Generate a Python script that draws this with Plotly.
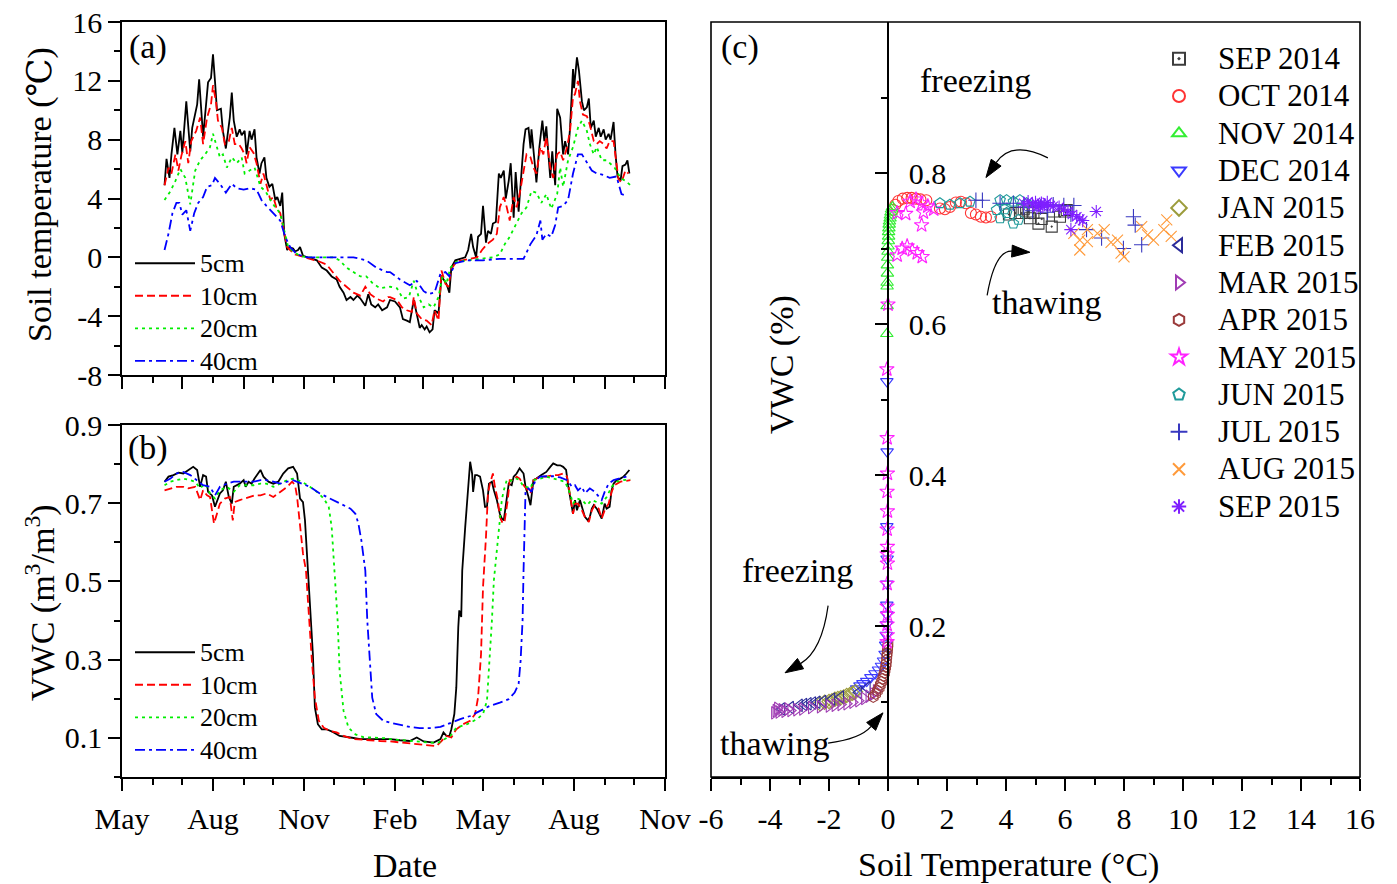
import pandas as pd
import plotly.graph_objects as go

FONT = "Liberation Serif, DejaVu Serif, serif"
W, H = 1397, 884

# ---------------- Panel (a): soil temperature, days since 2014-05-01 ----------------
days_t5 = [43,45,48,50,53,56,59,61,65,69,71,76,78,82,85,87,90,92,94,96,100,102,105,109,111,113,116,119,121,124,
           126,129,131,134,136,139,141,144,146,149,152,155,157,160,162,164,167,169,173,175,178,180,183,187,192,197,202,207,212,217,
           220,224,227,231,234,238,241,246,249,252,256,259,263,268,
           271,276,281,284,288,291,295,298,301,303,306,308,311,314,316,320,323,326,328,331,333,337,342,347,350,353,355,358,360,363,
           365,368,370,373,375,378,381,383,386,388,391,393,396,398,401,403,406,408,411,413,414,417,419,422,425,427,429,431,433,435,
           438,440,443,446,448,451,453,456,457,460,462,465,467,470,472,474,477,479,482,484,487,489,492,494,497,499,501,504,506,509,511,513]
temp_5 = [4.9,6.7,5.4,7.0,8.8,7.0,8.6,7.1,10.6,7.2,8.8,10.4,12.1,8.2,10.4,11.9,12.2,13.8,12.0,10.0,10.1,8.6,7.4,9.5,11.2,9.3,8.2,8.7,8.3,8.6,
          7.0,8.6,8.0,8.7,6.8,5.7,6.4,6.8,5.4,4.8,5.0,3.9,4.1,3.5,4.4,1.6,0.5,0.7,0.6,0.4,0.5,0.7,0.1,0.0,-0.1,-0.2,-0.7,-0.9,-1.3,-1.5,
          -2.0,-2.4,-2.9,-2.7,-2.9,-2.6,-2.8,-3.3,-2.5,-3.2,-3.4,-3.2,-3.6,-3.4,
          -2.9,-3.0,-3.4,-4.2,-4.3,-4.4,-2.9,-3.8,-4.8,-4.6,-4.9,-4.7,-5.1,-4.9,-3.6,-3.8,-1.3,-1.6,-1.8,-2.4,-0.7,-0.2,-0.1,0.0,0.5,1.6,0.7,0.0,1.4,1.6,
          3.5,1.0,1.8,1.6,2.3,2.4,5.7,5.4,5.9,4.0,5.2,6.4,2.7,5.8,3.1,5.2,7.7,8.7,8.8,7.4,8.7,6.6,5.1,7.5,9.3,7.9,8.9,7.1,5.4,7.2,
          4.9,10.1,9.5,7.0,7.9,7.0,8.8,12.8,11.5,13.6,12.7,10.6,10.0,10.2,10.8,8.8,9.3,8.2,8.8,8.2,8.7,8.0,8.4,8.0,9.2,7.0,5.5,5.2,6.2,6.3,6.6,5.7]

days_t10 = [43,47,50,54,57,60,64,67,70,75,79,82,86,90,92,95,97,101,104,108,111,114,118,121,124,126,129,133,136,140,
            143,146,150,153,156,160,163,167,170,175,180,185,190,195,200,207,214,220,227,234,241,246,251,257,264,269,
            271,278,283,288,293,295,298,303,308,313,316,320,323,327,330,333,338,345,352,359,364,369,375,379,382,386,389,392,396,399,
            402,406,409,413,416,419,423,426,429,433,436,440,443,446,450,453,456,458,461,463,466,470,473,477,480,483,487,490,493,497,
            499,502,505,509,512]
temp_10 = [4.9,6.1,5.7,7.0,5.9,6.9,7.9,6.4,7.9,8.6,9.5,7.7,9.5,10.4,11.7,10.6,9.3,8.8,7.7,7.9,8.8,7.7,7.7,7.4,7.0,6.4,7.5,7.1,6.4,5.0,
           5.7,5.0,3.9,4.1,3.4,3.0,2.1,0.7,0.5,0.2,0.1,0.0,-0.1,-0.2,-0.3,-0.5,-1.1,-1.6,-2.0,-2.4,-2.6,-2.0,-2.5,-2.8,-3.0,-2.7,
           -2.7,-2.9,-3.4,-3.6,-3.7,-2.7,-3.8,-4.2,-4.3,-4.6,-3.6,-4.3,-0.9,-1.8,-2.0,-0.8,-0.3,-0.2,-0.1,0.0,0.5,0.9,1.2,1.6,3.4,4.1,3.4,2.5,4.1,3.4,
           4.3,5.9,7.0,6.8,6.1,5.7,7.5,7.0,8.2,6.1,5.4,7.0,7.2,6.6,7.5,8.6,10.9,11.1,12.0,10.6,9.7,9.6,9.0,7.9,7.7,7.9,7.7,7.4,7.9,7.9,
           6.8,5.3,5.1,5.9,5.7]

days_t20 = [43,49,54,59,64,69,74,79,84,89,92,96,99,102,106,111,116,121,124,129,134,140,145,150,155,160,165,168,173,180,
            187,200,214,220,227,234,241,247,254,261,268,
            271,278,284,290,295,300,305,310,315,320,324,328,332,338,349,362,375,382,387,392,397,401,404,409,414,419,424,429,434,440,
            443,446,451,456,461,465,470,473,477,480,485,490,493,498,504,509,514]
temp_20 = [3.9,4.5,5.2,6.0,5.4,3.6,5.9,6.6,7.0,7.5,8.4,7.4,6.8,7.0,6.1,6.8,6.4,6.8,5.7,5.9,6.1,4.8,4.5,3.9,3.4,3.0,1.6,0.7,0.4,0.1,
           0.0,0.0,0.0,-0.2,-0.7,-1.0,-1.3,-1.3,-1.8,-2.1,-2.0,
           -2.0,-2.1,-2.8,-2.7,-1.6,-2.7,-3.4,-3.2,-3.4,-2.7,-1.3,-1.8,-0.7,-0.3,-0.2,-0.1,0.0,0.2,0.9,1.4,2.1,2.6,3.0,3.4,4.5,4.4,3.7,4.3,3.3,4.3,
           6.1,4.8,6.6,7.5,8.8,9.3,8.6,7.7,7.0,7.5,6.6,6.6,6.4,6.1,5.4,5.2,4.9]

days_t40 = [43,47,51,55,58,61,65,69,73,77,82,86,91,94,99,105,111,116,123,129,136,141,146,153,160,165,170,177,187,200,
            217,234,247,257,268,
            271,281,291,298,305,310,316,322,327,331,337,349,365,382,406,413,419,423,425,429,434,438,441,446,451,456,461,465,470,475,
            480,487,493,500,505,510]
temp_40 = [0.5,1.6,3.0,3.7,3.7,2.9,3.2,1.8,3.0,3.7,4.1,4.8,4.9,5.4,5.0,4.4,5.0,4.7,4.6,4.7,4.6,3.9,3.5,3.0,2.5,1.4,0.7,0.2,0.0,0.0,
           0.0,0.0,-0.2,-0.7,-1.0,
           -1.0,-1.5,-1.9,-1.6,-2.3,-2.5,-2.4,-1.1,-1.0,-1.3,-0.4,-0.2,-0.2,-0.1,-0.1,0.9,1.5,2.5,1.2,1.6,1.4,2.2,3.4,3.5,3.9,5.7,7.0,7.0,6.4,5.9,
           5.7,5.6,5.4,5.5,4.3,4.2]

# ---------------- Panel (b): VWC (m3/m3) ----------------
days_w5 = [43,47,52,57,62,67,72,76,79,82,85,87,91,94,96,99,102,105,108,111,113,116,119,123,125,128,131,134,140,143,
           148,153,158,163,168,173,177,180,183,185,187,190,193,195,198,202,207,214,220,231,241,254,268,
           271,281,291,298,305,315,318,322,325,328,331,333,336,338,340,341,343,344,347,349,350,352,354,355,357,359,362,365,367,369,
           371,374,376,379,382,384,386,389,391,394,396,399,402,406,408,411,413,416,419,424,429,433,436,440,443,446,449,451,454,456,
           458,460,463,466,468,471,473,475,477,480,483,485,488,490,493,495,497,500,504,507,510,513]
vwc_5 = [0.755,0.768,0.772,0.778,0.776,0.785,0.793,0.785,0.742,0.772,0.768,0.729,0.720,0.691,0.703,0.725,0.733,0.755,0.716,0.699,
         0.742,0.746,0.750,0.759,0.742,0.755,0.750,0.763,0.785,0.768,0.755,0.750,0.755,0.776,0.789,0.793,0.776,0.712,0.703,0.656,
         0.571,0.468,0.314,0.178,0.135,0.122,0.122,0.114,0.105,0.101,0.097,0.097,0.097,
         0.097,0.094,0.092,0.101,0.091,0.088,0.092,0.097,0.114,0.105,0.105,0.122,0.161,0.229,0.383,0.426,0.409,0.528,0.639,0.708,
         0.759,0.806,0.776,0.729,0.772,0.772,0.768,0.733,0.691,0.691,0.750,0.755,0.733,0.708,0.673,0.661,0.656,0.708,0.750,0.746,
         0.768,0.776,0.789,0.776,0.742,0.716,0.695,0.759,0.763,0.772,0.780,0.793,0.802,0.797,0.797,0.793,0.785,0.746,0.699,0.673,
         0.708,0.682,0.708,0.682,0.665,0.656,0.665,0.686,0.695,0.686,0.673,0.661,0.699,0.686,0.691,0.733,0.750,0.759,0.763,0.768,
         0.776,0.785]

days_w10 = [43,49,55,62,67,74,79,82,86,89,93,96,99,104,109,112,114,119,124,129,134,140,146,153,160,167,172,175,177,180,
            183,186,188,192,195,199,204,210,217,224,234,247,261,
            271,284,298,308,318,323,328,333,338,345,352,357,360,363,365,368,370,372,375,377,380,382,385,387,390,392,396,399,402,406,
            409,413,416,423,429,436,441,446,450,453,456,458,461,465,468,472,475,478,482,485,488,492,495,498,504,509,514]
vwc_10 = [0.733,0.738,0.742,0.742,0.738,0.742,0.708,0.733,0.720,0.716,0.648,0.673,0.699,0.712,0.716,0.656,0.703,0.708,0.712,0.716,
          0.720,0.720,0.725,0.716,0.729,0.742,0.755,0.746,0.716,0.648,0.571,0.528,0.443,0.297,0.203,0.144,0.126,0.118,0.114,0.105,
          0.097,0.094,0.092,
          0.091,0.088,0.084,0.082,0.079,0.092,0.105,0.101,0.122,0.135,0.144,0.161,0.203,0.314,0.485,0.614,0.725,0.750,0.776,0.742,
          0.708,0.665,0.648,0.656,0.708,0.759,0.759,0.768,0.763,0.746,0.738,0.725,0.759,0.768,0.768,0.772,0.772,0.776,0.768,0.716,
          0.673,0.699,0.699,0.682,0.665,0.652,0.682,0.695,0.686,0.661,0.682,0.699,0.729,0.746,0.755,0.757,0.759]

days_w20 = [43,49,55,62,69,74,79,84,89,94,99,106,113,119,126,133,140,146,153,160,167,173,182,190,197,204,209,212,215,218,
            220,224,229,236,244,254,268,
            271,284,298,311,320,327,332,338,349,359,365,369,371,374,376,379,382,384,386,389,392,396,399,402,406,409,413,416,423,429,
            436,443,448,453,456,460,465,470,475,480,485,490,495,500,507,514]
vwc_20 = [0.746,0.755,0.759,0.763,0.759,0.755,0.738,0.750,0.725,0.712,0.733,0.742,0.729,0.746,0.746,0.746,0.750,0.750,0.742,0.750,
          0.759,0.763,0.755,0.742,0.729,0.712,0.691,0.639,0.528,0.400,0.272,0.169,0.126,0.109,0.102,0.101,0.099,
          0.097,0.094,0.092,0.088,0.088,0.097,0.105,0.126,0.135,0.148,0.161,0.195,0.272,0.400,0.503,0.588,0.656,0.708,0.733,0.759,
          0.755,0.763,0.763,0.759,0.742,0.742,0.738,0.759,0.763,0.768,0.763,0.759,0.755,0.725,0.699,0.712,0.708,0.695,0.708,0.703,
          0.699,0.716,0.742,0.755,0.759,0.761]

days_w40 = [43,49,55,62,69,76,82,89,94,99,106,113,119,126,133,140,146,153,160,167,173,182,190,200,210,220,231,236,239,242,
            246,248,251,253,257,264,
            271,281,291,301,311,322,332,342,352,362,372,382,391,397,401,403,405,406,407,408,411,414,418,423,429,436,443,450,455,458,
            461,465,468,473,478,482,485,488,492,497,504,510]
vwc_40 = [0.755,0.763,0.776,0.780,0.772,0.759,0.746,0.742,0.720,0.742,0.750,0.755,0.755,0.755,0.755,0.759,0.759,0.755,0.750,0.755,
          0.759,0.750,0.742,0.725,0.712,0.699,0.686,0.673,0.648,0.605,0.528,0.400,0.272,0.203,0.161,0.144,
          0.139,0.133,0.128,0.125,0.125,0.128,0.139,0.148,0.156,0.169,0.182,0.190,0.199,0.216,0.238,0.297,0.400,0.528,0.656,0.733,
          0.738,0.729,0.759,0.768,0.769,0.769,0.766,0.759,0.742,0.746,0.733,0.742,0.725,0.738,0.729,0.716,0.708,0.729,0.750,0.759,
          0.763,0.768]

# ---------------- Panel (c): VWC vs soil temperature, by month ----------------
sep14_t = [4.1,4.31,4.53,4.6,4.76,4.81,4.93,5.1,5.21,5.55,5.6,5.83,6.0,6.06]
sep14_v = [0.745,0.747,0.747,0.752,0.749,0.740,0.747,0.733,0.739,0.729,0.749,0.742,0.749,0.751]
oct14_t = [0.17,0.25,0.35,0.5,0.65,0.8,0.95,1.1,1.3,1.76,1.93,2.1,2.3,2.47,2.64,2.81,2.98,3.15,3.32,3.49]
oct14_v = [0.751,0.758,0.763,0.766,0.767,0.767,0.766,0.765,0.764,0.753,0.752,0.755,0.761,0.762,0.760,0.747,0.745,0.742,0.741,0.742]
nov14_t = [0.15,0.12,0.1,0.08,0.07,0.05,0.04,0.03,0.02,0.02,0.01,0.0,0.0,-0.01,-0.02,-0.02,-0.03,-0.03,-0.03,-0.04]
nov14_v = [0.755,0.752,0.748,0.744,0.740,0.736,0.732,0.727,0.722,0.716,0.710,0.703,0.696,0.688,0.678,0.667,0.655,0.650,0.624,0.587]
dec14_t = [-0.04,-0.03,-0.04,-0.03,-0.04,-0.04,-0.04,-0.05,-0.06,-0.08,-0.1,-0.15,-0.22,-0.32,-0.44,-0.58,-0.72,-0.85,-0.95,-1.06]
dec14_v = [0.524,0.431,0.332,0.289,0.256,0.228,0.215,0.202,0.188,0.175,0.163,0.154,0.147,0.142,0.137,0.132,0.127,0.124,0.121,0.117]
jan15_t = [-2.3,-2.15,-2.0,-1.9,-1.8,-1.7,-1.6,-1.5,-1.4,-1.3,-1.2,-1.1]
jan15_v = [0.097,0.099,0.100,0.101,0.103,0.104,0.105,0.106,0.108,0.109,0.111,0.113]
feb15_t = [-3.6,-3.3,-3.0,-2.85,-2.7,-2.55,-2.4,-2.2,-1.9,-1.6,-1.0,-0.7]
feb15_v = [0.090,0.092,0.095,0.096,0.097,0.098,0.099,0.100,0.103,0.106,0.112,0.118]
mar15_t = [-3.85,-3.8,-3.75,-3.7,-3.6,-3.5,-3.4,-3.3,-3.1,-2.9,-2.6,-2.3,-2.0,-1.8,-1.6,-1.4,-1.2,-1.0,-0.8,-0.65,-0.5,-0.4]
mar15_v = [0.085,0.088,0.091,0.086,0.089,0.087,0.090,0.088,0.089,0.090,0.092,0.093,0.094,0.095,0.096,0.097,0.099,0.101,0.104,0.107,0.110,0.114]
apr15_t = [-0.5,-0.42,-0.36,-0.3,-0.26,-0.22,-0.18,-0.15,-0.12,-0.1,-0.08,-0.06,-0.05,-0.04,-0.03,-0.02,-0.01,0.0]
apr15_v = [0.106,0.110,0.114,0.118,0.122,0.126,0.130,0.134,0.138,0.142,0.146,0.150,0.155,0.160,0.164,0.168,0.172,0.176]
may15_t = [-0.03,-0.02,-0.03,-0.02,-0.03,-0.03,-0.02,-0.03,-0.02,-0.03,-0.02,-0.03,-0.02,-0.03,-0.04,0.0,
           0.31,0.48,0.65,0.82,0.99,1.16,1.14,0.31,0.6,0.75,0.95,1.15,1.35,1.55,1.2]
may15_v = [0.179,0.188,0.202,0.215,0.226,0.256,0.283,0.295,0.305,0.328,0.352,0.378,0.402,0.449,0.540,0.626,
           0.691,0.700,0.703,0.698,0.694,0.689,0.731,0.747,0.746,0.762,0.765,0.760,0.756,0.752,0.748]
jun15_t = [1.76,2.1,2.44,2.78,3.68,3.8,4.02,4.25,4.47,4.7,3.8,4.02,4.25,4.42,3.95]
jun15_v = [0.760,0.758,0.760,0.762,0.751,0.764,0.764,0.762,0.764,0.760,0.740,0.747,0.733,0.738,0.752]
jul15_t = [2.98,3.2,3.8,4.25,4.6,5.17,5.6,5.96,6.2,6.3,6.73,7.24,7.98,8.32,8.38,8.6,4.9,5.4]
jul15_v = [0.764,0.764,0.760,0.760,0.755,0.755,0.758,0.757,0.745,0.757,0.725,0.714,0.700,0.742,0.731,0.705,0.750,0.748]
aug15_t = [6.3,6.5,6.5,6.76,6.76,7.1,7.33,7.56,7.78,7.9,8.0,8.6,8.8,9.0,9.45,9.6,9.35]
aug15_v = [0.720,0.711,0.698,0.725,0.709,0.720,0.725,0.708,0.711,0.694,0.689,0.729,0.718,0.711,0.738,0.716,0.725]
sep15_t = [4.6,4.75,4.9,5.0,5.1,5.2,5.3,5.4,5.5,5.6,5.8,5.95,6.1,6.25,6.4,6.5,6.6,6.2,7.06,5.05,5.25]
sep15_v = [0.760,0.762,0.758,0.761,0.757,0.760,0.758,0.761,0.757,0.756,0.755,0.752,0.749,0.745,0.742,0.739,0.737,0.725,0.749,0.754,0.755]

months = ["SEP 2014","OCT 2014","NOV 2014","DEC 2014","JAN 2015","FEB 2015","MAR 2015",
          "APR 2015","MAY 2015","JUN 2015","JUL 2015","AUG 2015","SEP 2015"]
month_t = [sep14_t,oct14_t,nov14_t,dec14_t,jan15_t,feb15_t,mar15_t,apr15_t,may15_t,jun15_t,jul15_t,aug15_t,sep15_t]
month_v = [sep14_v,oct14_v,nov14_v,dec14_v,jan15_v,feb15_v,mar15_v,apr15_v,may15_v,jun15_v,jul15_v,aug15_v,sep15_v]
month_colors = ["#3c3c3c","#ff3333","#33ee33","#3a3aff","#9c9c3c","#2a2a99","#a03cb4",
                "#9a3a3a","#ff22ff","#1f9a9a","#3838c0","#ff9a3a","#7f1fff"]
month_symbols = ["square-open-dot","circle-open","triangle-up-open","triangle-down-open","diamond-open",
                 "triangle-left-open","triangle-right-open","hexagon-open","star-open","pentagon-open",
                 "cross-thin-open","x-thin-open","asterisk-open"]

depths = ["5cm","10cm","20cm","40cm"]
depth_colors = ["#000000","#ff0000","#00ee00","#0000ff"]
depth_dash = ["solid","8px,4px","3px,4px","10px,4px,3px,4px"]

# ---------------- build ----------------
base = pd.Timestamp("2014-05-01")
def to_dates(days):
    return [base + pd.Timedelta(days=d) for d in days]

def big(text, size):
    return '<span style="font-size:%dpx">%s</span>' % (size, text)

fig = go.Figure()

temp_days = [days_t5, days_t10, days_t20, days_t40]
temp_vals = [temp_5, temp_10, temp_20, temp_40]
for name, d, v, c, ds in zip(depths, temp_days, temp_vals, depth_colors, depth_dash):
    fig.add_trace(go.Scatter(x=to_dates(d), y=v, mode="lines", name=big(name, 26),
                             line=dict(color=c, width=1.8, dash=ds),
                             xaxis="x", yaxis="y", legend="legend"))

vwc_days = [days_w5, days_w10, days_w20, days_w40]
vwc_vals = [vwc_5, vwc_10, vwc_20, vwc_40]
for name, d, v, c, ds in zip(depths, vwc_days, vwc_vals, depth_colors, depth_dash):
    fig.add_trace(go.Scatter(x=to_dates(d), y=v, mode="lines", name=big(name, 26),
                             line=dict(color=c, width=1.8, dash=ds),
                             xaxis="x2", yaxis="y2", legend="legend2"))

for i, (name, t, v, c, s) in enumerate(zip(months, month_t, month_v, month_colors, month_symbols)):
    fig.add_trace(go.Scatter(x=t, y=v, mode="markers", name=big(name, 31),
                             marker=dict(symbol=s, size=11, color=c, line=dict(color=c, width=1.1)),
                             xaxis="x3", yaxis="y3", legend="legend3", legendgroup="g%d" % i))

# ---------------- layout ----------------
def px2x(p): return p / W
def px2y(p): return 1 - p / H

dom_ab_x = [px2x(122), px2x(665)]
dom_a_y = [px2y(375), px2y(22)]
dom_b_y = [px2y(777), px2y(425)]
dom_c_x = [px2x(711), px2x(1360)]
dom_c_y = [px2y(777), px2y(22)]

tick_font = dict(family=FONT, size=30, color="black")
line_kw = dict(showline=True, linecolor="black", linewidth=1.6, showgrid=False, zeroline=False, automargin=False)
tk = dict(tickwidth=1.5, tickcolor="black")
mk = dict(tickwidth=1.5, tickcolor="black")

t_range = [-6, 16]
t_ticks = list(range(-6, 17, 2))
y0_pos = dom_c_x[0] + (0 - t_range[0]) / (t_range[1] - t_range[0]) * (dom_c_x[1] - dom_c_x[0])

fig.update_layout(
    width=W, height=H, margin=dict(l=0, r=0, t=0, b=0),
    paper_bgcolor="white", plot_bgcolor="white",
    font=dict(family=FONT, color="black"),
    xaxis=dict(domain=dom_ab_x, anchor="y", type="date", range=["2014-05-01", "2015-11-01"],
               showticklabels=False, ticks="outside", ticklen=12, tick0="2014-05-01", dtick="M2", mirror=True,
               minor=dict(ticks="outside", ticklen=6, dtick="M1", tick0="2014-05-01", **mk),
               **tk, **line_kw),
    yaxis=dict(domain=dom_a_y, anchor="x", range=[-8, 16], tickmode="array",
               tickvals=[-8, -4, 0, 4, 8, 12, 16], ticktext=["-8", "-4", "0", "4", "8", "12", "16"],
               ticks="outside", ticklen=12, tickfont=tick_font, mirror=True,
               minor=dict(ticks="outside", ticklen=6, tickmode="linear", tick0=0, dtick=2, **mk),
               **tk, **line_kw),
    xaxis2=dict(domain=dom_ab_x, anchor="y2", type="date", range=["2014-05-01", "2015-11-01"],
                tickformat="%b", tick0="2014-05-01", dtick="M3", ticks="outside", ticklen=12,
                tickfont=tick_font, mirror=True, ticklabelstandoff=2,
                minor=dict(ticks="outside", ticklen=6, dtick="M1", tick0="2014-05-01", **mk),
                **tk, **line_kw),
    yaxis2=dict(domain=dom_b_y, anchor="x2", range=[0, 0.9], tickmode="array",
                tickvals=[0.1, 0.3, 0.5, 0.7, 0.9], ticktext=["0.1", "0.3", "0.5", "0.7", "0.9"],
                ticks="outside", ticklen=12, tickfont=tick_font, mirror=True,
                minor=dict(ticks="outside", ticklen=6, tickmode="linear", tick0=0, dtick=0.1, **mk),
                **tk, **line_kw),
    xaxis3=dict(domain=dom_c_x, anchor="y3", range=t_range, tickmode="array", tickvals=t_ticks,
                ticktext=[str(v) for v in t_ticks], ticks="outside", ticklen=12,
                tickfont=tick_font, ticklabelstandoff=2,
                minor=dict(ticks="outside", ticklen=6, tickmode="linear", tick0=0, dtick=1, **mk),
                **tk, **line_kw),
    xaxis4=dict(domain=dom_c_x, anchor="y3", overlaying="x3", side="top", range=t_range, tickmode="array",
                tickvals=t_ticks, showticklabels=False, ticks="inside", ticklen=12,
                minor=dict(ticks="inside", ticklen=6, tickmode="linear", tick0=0, dtick=1, **mk),
                **tk, **line_kw),
    yaxis3=dict(domain=dom_c_y, anchor="free", position=y0_pos, side="right", range=[0, 1.0], tickmode="array",
                tickvals=[0.2, 0.4, 0.6, 0.8], ticktext=["0.2", "0.4", "0.6", "0.8"],
                ticks="inside", ticklen=12, tickfont=tick_font, ticklabelstandoff=14,
                minor=dict(ticks="inside", ticklen=6, tickmode="array", tickvals=[0.1, 0.3, 0.5, 0.7, 0.9], **mk),
                **tk, **line_kw),
    legend=dict(x=px2x(130), y=px2y(242), xanchor="left", yanchor="top", bgcolor="rgba(0,0,0,0)",
                font=dict(family=FONT, size=22.7, color="black"), itemwidth=60, tracegroupgap=0),
    legend2=dict(x=px2x(130), y=px2y(631), xanchor="left", yanchor="top", bgcolor="rgba(0,0,0,0)",
                 font=dict(family=FONT, size=22.7, color="black"), itemwidth=60, tracegroupgap=0),
    legend3=dict(x=px2x(1140), y=px2y(35), xanchor="left", yanchor="top", bgcolor="rgba(0,0,0,0)",
                 font=dict(family=FONT, size=26.4, color="black"), itemwidth=68, tracegroupgap=0,
                 itemsizing="constant"),
    showlegend=True,
)

# frame of panel (c)
fig.add_shape(type="rect", xref="paper", yref="paper", x0=dom_c_x[0], x1=dom_c_x[1], y0=dom_c_y[0], y1=dom_c_y[1],
              line=dict(color="black", width=1.6), fillcolor="rgba(0,0,0,0)", layer="above")

# text annotations
def ann(text, px, py, size=34, angle=0):
    fig.add_annotation(text=text, x=px2x(px), y=px2y(py), xref="paper", yref="paper", showarrow=False,
                       font=dict(family=FONT, size=size, color="black"), textangle=angle,
                       xanchor="center", yanchor="middle")

ann("(a)", 148, 47)
ann("(b)", 148, 448)
ann("(c)", 740, 47)
ann("Soil temperature (\u2103)", 40, 195, angle=-90)
ann("VWC (m<sup>3</sup>/m<sup>3</sup>)", 40, 603, angle=-90)
ann("VWC (%)", 782, 365, angle=-90)
ann("Date", 405, 865)
ann("Soil Temperature (\u00b0C)", 1008, 865)
ann("freezing", 975, 80)
ann("thawing", 1047, 302)
ann("freezing", 797, 570)
ann("thawing", 775, 743)

# curved arrows in panel (c): (start, control, tip) in data units, filled triangular heads
px_per_t = (dom_c_x[1] - dom_c_x[0]) * W / (t_range[1] - t_range[0])
px_per_v = (dom_c_y[1] - dom_c_y[0]) * H / 1.0
arrows = [
    ((5.42, 0.820), (4.20, 0.844), (3.32, 0.794)),
    ((3.36, 0.638), (3.63, 0.698), (4.81, 0.695)),
    ((-2.03, 0.227), (-2.24, 0.167), (-3.49, 0.138)),
    ((-2.03, 0.045), (-0.95, 0.050), (-0.17, 0.085)),
]
HEAD_L, HEAD_W = 18, 6
for (s, c, e) in arrows:
    dx = (e[0] - c[0]) * px_per_t
    dy = -(e[1] - c[1]) * px_per_v
    n = (dx * dx + dy * dy) ** 0.5
    ux, uy = dx / n, dy / n
    bx, by = -ux * HEAD_L, -uy * HEAD_L
    def to_data(ox, oy):
        return (e[0] + ox / px_per_t, e[1] - oy / px_per_v)
    base_c = to_data(bx, by)
    c1 = to_data(bx - uy * HEAD_W, by + ux * HEAD_W)
    c2 = to_data(bx + uy * HEAD_W, by - ux * HEAD_W)
    fig.add_shape(type="path", xref="x3", yref="y3",
                  path="M %f,%f Q %f,%f %f,%f" % (s[0], s[1], c[0], c[1], base_c[0], base_c[1]),
                  line=dict(color="black", width=1.2))
    fig.add_shape(type="path", xref="x3", yref="y3",
                  path="M %f,%f L %f,%f L %f,%f Z" % (e[0], e[1], c1[0], c1[1], c2[0], c2[1]),
                  line=dict(color="black", width=1), fillcolor="black")

fig.write_html("out.html", config={"displayModeBar": False},
               post_script="document.body.style.margin='0';document.body.style.overflow='hidden';")
